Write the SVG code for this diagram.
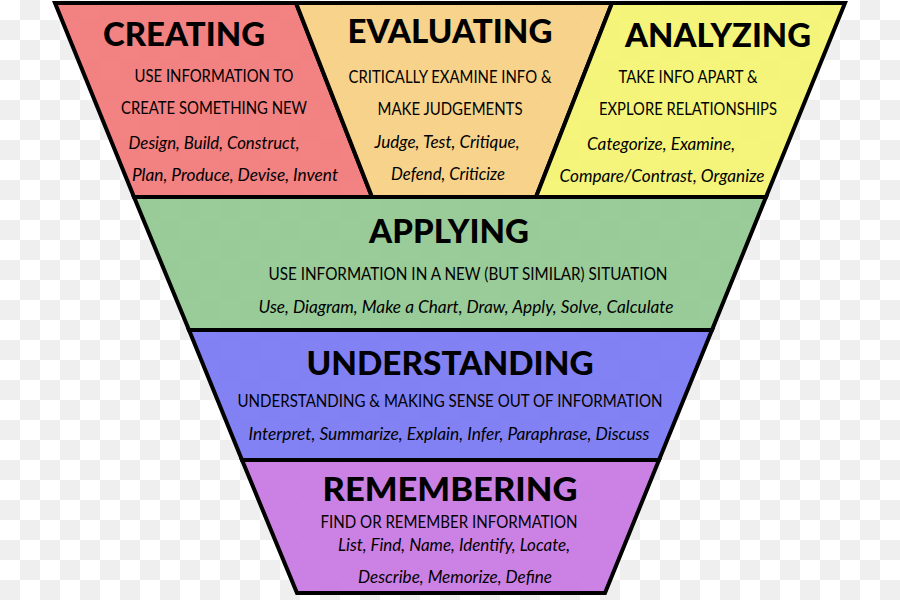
<svg xmlns="http://www.w3.org/2000/svg" width="900" height="600" viewBox="0 0 900 600">
<defs>
<pattern id="chk" x="0" y="0" width="40" height="40" patternUnits="userSpaceOnUse">
<rect width="40" height="40" fill="#ffffff"/>
<rect x="20" y="0" width="20" height="20" fill="#efefef"/>
<rect x="0" y="20" width="20" height="20" fill="#efefef"/>
</pattern>
<style>
.blk{stroke:#000;stroke-width:4;stroke-linejoin:miter;fill-opacity:0.93}
.t{font-family:Lato,"Open Sans","Liberation Sans",sans-serif;font-weight:900;font-size:33px;fill:#000;text-anchor:middle}
.s{font-family:Lato,"Open Sans","Liberation Sans",sans-serif;font-size:16.5px;fill:#000;text-anchor:middle}
.i{font-family:Lato,"Open Sans","Liberation Sans",sans-serif;font-style:italic;font-size:16.5px;fill:#000;text-anchor:middle}
</style>
</defs>
<rect width="900" height="600" fill="url(#chk)"/>

<g id="creating">
<polygon class="blk" fill="#f27878" points="55,3 296,3 372,197 134,197"/>
<text class="t" x="184" y="46" textLength="162" lengthAdjust="spacingAndGlyphs">CREATING</text>
<text class="s" x="214" y="82" textLength="159" lengthAdjust="spacingAndGlyphs">USE INFORMATION TO</text>
<text class="s" x="214" y="114" textLength="186" lengthAdjust="spacingAndGlyphs">CREATE SOMETHING NEW</text>
<text class="i" x="214" y="149" textLength="171" lengthAdjust="spacingAndGlyphs">Design, Build, Construct,</text>
<text class="i" x="235" y="181" textLength="206" lengthAdjust="spacingAndGlyphs">Plan, Produce, Devise, Invent</text>
</g>

<g id="evaluating">
<polygon class="blk" fill="#f8d083" points="296,3 612,3 536,197 372,197"/>
<text class="t" x="450" y="43" textLength="205" lengthAdjust="spacingAndGlyphs">EVALUATING</text>
<text class="s" x="450" y="83" textLength="203" lengthAdjust="spacingAndGlyphs">CRITICALLY EXAMINE INFO &amp;</text>
<text class="s" x="450" y="115" textLength="145" lengthAdjust="spacingAndGlyphs">MAKE JUDGEMENTS</text>
<text class="i" x="447" y="148" textLength="145" lengthAdjust="spacingAndGlyphs">Judge, Test, Critique,</text>
<text class="i" x="448" y="180" textLength="114" lengthAdjust="spacingAndGlyphs">Defend, Criticize</text>
</g>

<g id="analyzing">
<polygon class="blk" fill="#f4f472" points="612,3 845,3 766,197 536,197"/>
<text class="t" x="718" y="47" textLength="186" lengthAdjust="spacingAndGlyphs">ANALYZING</text>
<text class="s" x="688" y="83" textLength="139" lengthAdjust="spacingAndGlyphs">TAKE INFO APART &amp;</text>
<text class="s" x="688" y="115" textLength="178" lengthAdjust="spacingAndGlyphs">EXPLORE RELATIONSHIPS</text>
<text class="i" x="661" y="150" textLength="148" lengthAdjust="spacingAndGlyphs">Categorize, Examine,</text>
<text class="i" x="662" y="182" textLength="205" lengthAdjust="spacingAndGlyphs">Compare/Contrast, Organize</text>
</g>

<g id="applying">
<polygon class="blk" fill="#92c891" points="134,197 766,197 712,330 189,330"/>
<text class="t" x="449" y="243" textLength="160" lengthAdjust="spacingAndGlyphs">APPLYING</text>
<text class="s" x="468" y="280" textLength="399" lengthAdjust="spacingAndGlyphs">USE INFORMATION IN A NEW (BUT SIMILAR) SITUATION</text>
<text class="i" x="466" y="313" textLength="415" lengthAdjust="spacingAndGlyphs">Use, Diagram, Make a Chart, Draw, Apply, Solve, Calculate</text>
</g>

<g id="understanding">
<polygon class="blk" fill="#7878f4" points="189,330 712,330 659,460 242,460"/>
<text class="t" x="450" y="375" textLength="287" lengthAdjust="spacingAndGlyphs">UNDERSTANDING</text>
<text class="s" x="450" y="407" textLength="425" lengthAdjust="spacingAndGlyphs">UNDERSTANDING &amp; MAKING SENSE OUT OF INFORMATION</text>
<text class="i" x="449" y="440" textLength="401" lengthAdjust="spacingAndGlyphs">Interpret, Summarize, Explain, Infer, Paraphrase, Discuss</text>
</g>

<g id="remembering">
<polygon class="blk" fill="#c878e2" points="242,460 659,460 605,593 297,593"/>
<text class="t" x="450" y="501" textLength="255" lengthAdjust="spacingAndGlyphs">REMEMBERING</text>
<text class="s" x="449" y="528" textLength="257" lengthAdjust="spacingAndGlyphs">FIND OR REMEMBER INFORMATION</text>
<text class="i" x="454" y="551" textLength="232" lengthAdjust="spacingAndGlyphs">List, Find, Name, Identify, Locate,</text>
<text class="i" x="455" y="583" textLength="194" lengthAdjust="spacingAndGlyphs">Describe, Memorize, Define</text>
</g>

<g id="connectors"></g>
</svg>
